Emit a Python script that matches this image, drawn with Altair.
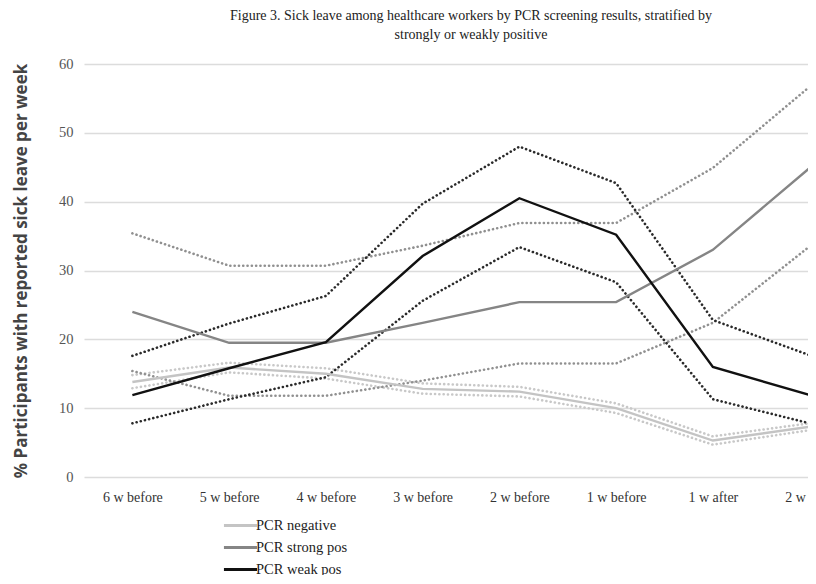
import altair as alt
import pandas as pd

weeks = ["6 w before", "5 w before", "4 w before", "3 w before",
         "2 w before", "1 w before", "1 w after", "2 w after"]

neg_mean = [13.8, 15.9, 15.0, 12.8, 12.4, 10.0, 5.3, 7.3]
neg_low = [12.9, 15.2, 14.3, 12.1, 11.7, 9.3, 4.7, 6.8]
neg_high = [14.8, 16.6, 15.8, 13.6, 13.1, 10.7, 5.9, 7.8]

strong_mean = [24.0, 19.5, 19.5, 22.4, 25.4, 25.4, 33.0, 44.9]
strong_low = [15.4, 11.8, 11.8, 14.0, 16.5, 16.5, 22.4, 33.5]
strong_high = [35.4, 30.7, 30.7, 33.6, 36.9, 36.9, 44.9, 56.7]

weak_mean = [11.9, 15.8, 19.6, 32.1, 40.5, 35.2, 16.0, 11.9]
weak_low = [7.8, 11.3, 14.5, 25.6, 33.4, 28.3, 11.3, 7.8]
weak_high = [17.6, 22.3, 26.3, 39.7, 48.0, 42.7, 22.8, 17.7]

series_names = ["PCR negative", "PCR strong pos", "PCR weak pos"]
series_colors = ["#c4c4c4", "#858585", "#111111"]
ci_colors = ["#c8c8c8", "#909090", "#2a2a2a"]

rows = []
ci_rows = []
for name, m, lo, hi in [
    (series_names[0], neg_mean, neg_low, neg_high),
    (series_names[1], strong_mean, strong_low, strong_high),
    (series_names[2], weak_mean, weak_low, weak_high),
]:
    for i, w in enumerate(weeks):
        rows.append({"week": w, "series": name, "value": m[i], "order": i})
        ci_rows.append({"week": w, "series": name, "bound": name + " low", "value": lo[i], "order": i})
        ci_rows.append({"week": w, "series": name, "bound": name + " high", "value": hi[i], "order": i})

df = pd.DataFrame(rows)
df_ci = pd.DataFrame(ci_rows)

xenc = alt.X("week:N", sort=weeks, title=None,
             scale=alt.Scale(type="point", padding=0.5, range=[0, 774]),
             axis=alt.Axis(labelAngle=0, domain=False, ticks=False, grid=False,
                           labelFont="Liberation Serif", labelFontSize=14,
                           labelColor="#333", labelPadding=13))
yenc = alt.Y("value:Q", title="% Participants with reported sick leave per week",
             scale=alt.Scale(domain=[0, 60]),
             axis=alt.Axis(values=[0, 10, 20, 30, 40, 50, 60], domain=False, ticks=False,
                           grid=True, gridColor="#dcdcdc", gridWidth=1.5,
                           labelFont="Liberation Serif", labelFontSize=14.5, labelColor="#555",
                           labelPadding=11,
                           titleFont="Open Sans", titleFontSize=17, titleFontWeight="bold",
                           titleColor="#444", titlePadding=28))

ci_layers = []
for name, col in zip(series_names, ci_colors):
    ci_layers.append(
        alt.Chart(df_ci).transform_filter(alt.datum.series == name)
        .mark_line(strokeDash=[0.1, 4.2], strokeCap="round", strokeWidth=2.6, color=col)
        .encode(x=xenc, y=yenc, detail="bound:N", order="order:Q")
    )

main = alt.Chart(df).mark_line(strokeWidth=2.4).encode(
    x=xenc, y=yenc,
    color=alt.Color("series:N", scale=alt.Scale(domain=series_names, range=series_colors),
                    legend=alt.Legend(title=None, orient="none", legendX=143, legendY=448,
                                      direction="vertical", symbolType="M-1.38,0L1.38,0",
                                      symbolSize=576, symbolStrokeWidth=3,
                                      labelFont="Liberation Serif", labelFontSize=14.5,
                                      labelColor="#222", rowPadding=2, labelOffset=2)),
    order="order:Q",
)

chart = alt.layer(*ci_layers, main).properties(
    width=724, height=413,
    autosize=alt.AutoSizeParams(type="none"),
    title=alt.Title(["Figure 3. Sick leave among healthcare workers by PCR screening results, stratified by",
                     "strongly or weakly positive"],
                    font="Liberation Serif", fontSize=14, fontWeight="normal", color="#222",
                    anchor="middle", offset=14, lineHeight=19, frame="group", dx=25),
    padding={"left": 76, "top": 56, "right": 0, "bottom": 98},
).configure_view(stroke=None)

chart.save("out.html", embed_options={"renderer": "svg", "actions": False})
